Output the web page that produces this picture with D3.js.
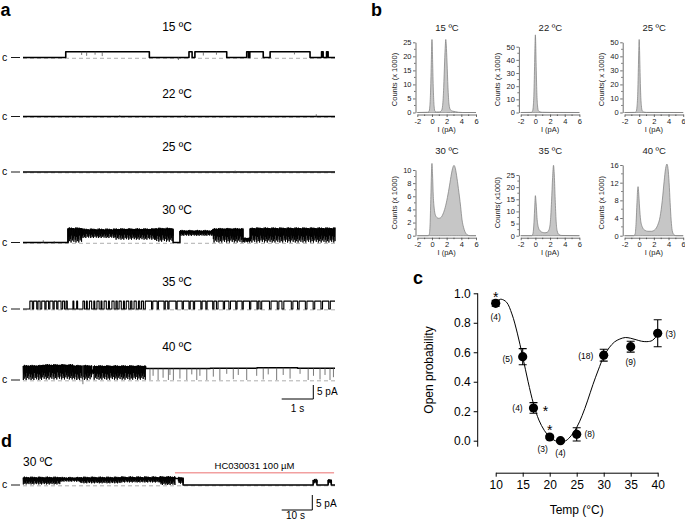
<!DOCTYPE html>
<html>
<head>
<meta charset="utf-8">
<script src="https://cdn.jsdelivr.net/npm/d3@7"></script>
<style>
  body { margin: 0; background: #fff; }
  svg { display: block; font-family: Arial, "Liberation Sans", sans-serif; }
</style>
</head>
<body>
<svg id="fig" width="685" height="519"></svg>
<script>
// ---------------- data ----------------
// a: single-channel traces, time in s (0-10), current in pA
// segments: [t0, t1, hi, lo]  (hi == lo -> steady level, else flicker band)
const traceLabels = ['15 ºC', '22 ºC', '25 ºC', '30 ºC', '35 ºC', '40 ºC']
const open15 = [[1.37, 4.05], [5.32, 5.42], [5.51, 6.53], [7.17, 7.23], [7.27, 7.70], [7.92, 9.20], [9.57, 9.62], [9.73, 9.78]]
const amp15 = 2.05
const spikes15 = [[1.88, 0.9], [2.04, 0.6], [2.31, 1.0], [2.54, 0.5], [4.98, -0.9], [5.78, 0.7], [6.2, 1.0], [8.7, 1.1]]
const seg22 = [[0, 10, 0, 0]]
const spikes22 = [[3.1, 0.5], [5.2, 0.5], [9.4, 0.8]]
const seg25 = [[0, 10, 0, 0]]
const spikes25 = [[6.8, 0.5]]
const seg30 = [[0, 1.44, 0, 0], [1.44, 1.89, 5.0, 0], [1.89, 2.95, 4.6, 1.6], [2.95, 4.23, 4.7, 1.0],
  [4.23, 4.81, 4.9, 0.3], [4.81, 5.03, 0, 0], [5.03, 6.09, 4.1, 2.4], [6.09, 7.05, 4.8, 0],
  [7.05, 7.28, 1.5, 0], [7.28, 10, 5.0, 0]]
const spikes30 = [[0.65, 0.8], [1.0, 0.5]]
const open35 = [[0.22, 0.30], [0.34, 0.44], [0.48, 0.55], [0.60, 0.70], [0.74, 0.82], [0.86, 0.96], [1.00, 1.08],
  [1.12, 1.22], [1.27, 1.33], [1.38, 1.42], [1.60, 1.63], [1.72, 1.75], [1.92, 1.97], [2.03, 2.06], [2.13, 2.20],
  [2.27, 2.30], [2.37, 2.44], [2.50, 2.53], [2.60, 2.67], [2.74, 2.77], [2.85, 2.92], [2.98, 3.02], [3.08, 3.15],
  [3.22, 3.25], [3.31, 3.39], [3.45, 3.49], [3.56, 3.63], [3.70, 3.74], [3.80, 3.86], [3.92, 4.12], [4.16, 4.30],
  [4.34, 4.52], [4.56, 4.64], [4.68, 4.90], [4.94, 5.10], [5.14, 5.32], [5.36, 5.46], [5.50, 5.70], [5.74, 5.86],
  [5.90, 6.08], [6.12, 6.20], [6.25, 6.42], [6.46, 6.60], [6.65, 6.82], [6.86, 7.02], [7.06, 7.26], [7.30, 7.50],
  [7.54, 7.60], [7.65, 7.90], [7.95, 8.15], [8.20, 8.30], [8.36, 8.60], [8.65, 8.80], [8.85, 9.05], [9.10, 9.30],
  [9.35, 9.55], [9.60, 9.80], [9.85, 10]]
const amp35 = 2.8
const seg40 = [[0, 0.6, 5.0, 0], [0.6, 1.6, 5.3, 0.2], [1.6, 2.2, 5.0, 0], [2.2, 2.27, 3.5, 2.0], [2.27, 3.93, 4.9, 0.1],
  [3.93, 6.0, 4.1, 4.1], [6.0, 7.5, 4.2, 4.2], [7.5, 8.8, 4.4, 4.4], [8.8, 10, 4.2, 4.2]]
const spikes40 = [[1.92, -1.5], [4.07, 0], [4.17, 1.5], [4.33, 0], [4.49, 0.8], [4.66, 0], [4.71, 1.8], [4.82, 0],
  [5.03, 0.5], [5.25, 0], [5.41, 2.0], [5.57, 0], [5.67, 1.5], [5.89, 0], [6.10, 1.2], [6.31, 0], [6.53, 2.2],
  [6.74, 0.3], [6.90, 1.8], [7.17, 0], [7.49, 1.5], [7.70, 0.2], [7.86, 2.0], [8.13, 0], [8.34, 1.8], [8.56, 0.5],
  [8.88, 2.2], [9.14, 0], [9.31, 1.5], [9.52, 0.2], [9.68, 1.8], [9.84, 0], [9.95, 1.0]]

// d: 30 ºC trace with HC030031, time in s (0-100)
const segD = [[0, 11.9, 2.6, 0.2], [11.9, 18.3, 2.5, 1.2], [18.3, 31.1, 2.6, 0.6], [31.1, 43.9, 2.7, 0.9],
  [43.9, 48.7, 2.8, 0], [48.7, 49.7, 2.3, 2.3], [49.7, 51.3, 2.5, 0.5], [51.3, 93.0, 0, 0], [93.0, 94.2, 1.8, 0.6],
  [94.2, 97.8, 0, 0], [97.8, 98.8, 1.8, 0.5], [98.8, 100, 0, 0]]
const hcRange = [48.7, 99.7]
const hcLabel = 'HC030031 100 µM'

// b: all-points histograms, I (pA) vs counts (x 1000)
const histTitles = ['15 ºC', '22 ºC', '25 ºC', '30 ºC', '35 ºC', '40 ºC']
const histYLabels = ['Counts (x 1000)', 'Counts (x 1000)', 'Counts( x 1000)', 'Counts (x 1000)', 'Counts( x1000)', 'Counts (x 1000)']
const histTickMax = [25, 50, 50, 10, 25, 16]
const histTickStep = [5, 10, 10, 2, 5, 4]
const histXTicks = [-2, 0, 2, 4, 6]
const hist15 = [[-2, 0], [-0.6, 0.1], [-0.4, 0.4], [-0.3, 2], [-0.2, 7], [-0.1, 17], [-0.04, 24], [0, 26], [0.04, 24],
  [0.1, 17], [0.2, 7], [0.3, 2], [0.4, 0.5], [0.6, 0.2], [1.0, 0.2], [1.3, 0.7], [1.45, 2.5], [1.6, 9], [1.72, 18],
  [1.82, 24], [1.88, 26], [1.95, 24], [2.05, 18], [2.18, 9], [2.32, 3], [2.5, 1], [2.8, 0.5], [3.2, 0.3], [3.6, 0.1],
  [4.2, 0], [6, 0]]
const hist22 = [[-2, 0], [-0.6, 0.1], [-0.4, 0.8], [-0.3, 4], [-0.2, 14], [-0.1, 38], [-0.04, 54], [0, 59], [0.04, 54],
  [0.1, 38], [0.2, 15], [0.3, 5], [0.4, 1.5], [0.6, 0.5], [1.0, 0.2], [2, 0.1], [6, 0]]
const hist25 = [[-2, 0], [-0.6, 0.1], [-0.4, 0.8], [-0.3, 4], [-0.2, 13], [-0.1, 34], [-0.04, 47], [0, 52], [0.04, 47],
  [0.1, 34], [0.2, 14], [0.3, 5], [0.4, 1.5], [0.6, 0.4], [1.0, 0.1], [6, 0]]
const hist30 = [[-2, 0], [-0.5, 0], [-0.35, 0.3], [-0.25, 2], [-0.15, 6], [-0.05, 10.2], [0, 11], [0.07, 9.5],
  [0.18, 6], [0.3, 4.2], [0.45, 3.2], [0.65, 2.8], [0.9, 2.65], [1.2, 2.75], [1.5, 3.3], [1.8, 4.3], [2.1, 5.8],
  [2.4, 7.7], [2.65, 9.4], [2.85, 10.4], [3.0, 10.7], [3.15, 10.4], [3.35, 9.2], [3.6, 7.2], [3.9, 4.5], [4.1, 2.4],
  [4.3, 1.3], [4.5, 0.6], [4.8, 0.15], [5.2, 0], [6, 0]]
const hist35 = [[-2, 0], [-0.5, 0], [-0.35, 0.6], [-0.22, 4], [-0.1, 11], [0, 16.5], [0.1, 13.5], [0.22, 7.5],
  [0.4, 3.5], [0.65, 2], [0.95, 1.4], [1.3, 1.2], [1.6, 1.4], [1.85, 2.4], [2.05, 6], [2.2, 14], [2.35, 24],
  [2.47, 29], [2.58, 25], [2.7, 15], [2.83, 6], [2.97, 2], [3.2, 0.5], [3.6, 0.1], [6, 0]]
const hist40 = [[-2, 0], [-0.75, 0], [-0.55, 0.4], [-0.42, 3], [-0.3, 7.5], [-0.2, 10.7], [-0.15, 11.1], [-0.08, 10],
  [0.05, 6.5], [0.2, 3.5], [0.45, 1.9], [0.8, 1.2], [1.2, 1.0], [1.7, 1.0], [2.1, 1.3], [2.5, 2.3], [2.85, 4.3],
  [3.15, 8], [3.4, 12.3], [3.6, 15.2], [3.78, 16.2], [3.93, 15.2], [4.08, 12], [4.22, 7.5], [4.36, 3.5], [4.5, 1.2],
  [4.7, 0.3], [5, 0], [6, 0]]

// c: open probability vs temperature
const temps = [10, 15, 17, 20, 22, 25, 30, 35, 40]
const po = [0.932, 0.57, 0.222, 0.025, 0.0, 0.043, 0.58, 0.638, 0.729]
const poErr = [0.02, 0.055, 0.036, 0.012, 0.01, 0.045, 0.04, 0.037, 0.092]
const nLabels = ['(4)', '(5)', '(4)', '(3)', '(4)', '(8)', '(18)', '(9)', '(3)']
const starred = [10, 17, 20]
const fitT = [10.5, 11, 12, 13, 14, 15, 16, 17, 18, 19, 20, 21, 22, 23, 24, 25, 26, 27, 28, 29, 30, 31, 32, 33, 34, 35, 36, 37, 38, 39, 40]
const fitPo = [0.955, 0.96, 0.94, 0.86, 0.73, 0.57, 0.40, 0.25, 0.14, 0.07, 0.025, 0.0, -0.01, 0.0, 0.035, 0.09, 0.17,
  0.27, 0.38, 0.48, 0.57, 0.63, 0.67, 0.69, 0.70, 0.695, 0.685, 0.675, 0.672, 0.68, 0.72]

// ---------------- drawing ----------------
const svg = d3.select('#fig')
const PX_PER_PA = 2.8
// fixed texture for flicker bands: fraction of the closing depth reached at each sub-pixel column
const FLICKER_DEPTH = [1, 0.6, 0.9, 0.75, 1, 0.5, 0.85, 0.7, 0.95, 0.55, 0.8]
const FLICKER_TOP = [0, 0.3, -0.2, 0.4, 0.1, -0.3, 0.2, 0, 0.35, -0.1, 0.15]

function fromOpenings(list, amp) {
  const segs = []
  let t = 0
  list.forEach(([a, b]) => {
    if (a > t) segs.push([t, a, 0, 0])
    segs.push([a, b, amp, amp])
    t = b
  })
  if (t < 10) segs.push([t, 10, 0, 0])
  return segs
}

// steady levels as one continuous line; bands are drawn separately
function levelPath(segs, x, y) {
  let p = ''
  segs.forEach((s, i) => {
    const x0 = x(s[0]), x1 = x(s[1])
    p += (i ? 'L' : 'M') + x0 + ',' + y(s[2]) + 'L' + x1 + ',' + y(s[2])
  })
  return p
}

function bandPath(segs, x, y) {
  let p = ''
  let k = 0
  const step = 0.7
  segs.filter(s => s[2] !== s[3]).forEach(s => {
    const x0 = x(s[0]), x1 = x(s[1])
    p += 'M' + x0 + ',' + y(s[2])
    for (let px = x0; px < x1; px += step, k++) {
      const f = FLICKER_DEPTH[k % FLICKER_DEPTH.length]
      const top = s[2] + FLICKER_TOP[(k * 3) % FLICKER_TOP.length]
      p += 'L' + Math.min(px + step / 2, x1) + ',' + y(s[2] - (s[2] - s[3]) * f) + 'L' + Math.min(px + step, x1) + ',' + y(top)
    }
  })
  return p
}

function drawTrace(segs, spikes, x, base, lw) {
  const y = a => base - a * PX_PER_PA
  const g = svg.append('g')
  // closed-level dashed line
  g.append('line').attr('x1', x.range()[0]).attr('x2', x.range()[1])
    .attr('y1', base + 0.8).attr('y2', base + 0.8)
    .attr('stroke', '#9a9a9a').attr('stroke-width', 0.8).attr('stroke-dasharray', '4,3')
  // "c —" label
  g.append('text').attr('x', 2).attr('y', base + 3).attr('font-size', 10.5).text('c')
  g.append('line').attr('x1', 11).attr('x2', 20).attr('y1', base).attr('y2', base)
    .attr('stroke', '#000').attr('stroke-width', 0.9)
  const steady = segs.map(s => s[2] === s[3] ? s : [s[0], s[1], s[2] - 0.2, s[2] - 0.2])
  g.append('path').attr('d', levelPath(steady, x, y))
    .attr('fill', 'none').attr('stroke', '#000').attr('stroke-width', lw || 1.6).attr('stroke-linejoin', 'round')
  g.append('path').attr('d', bandPath(segs, x, y))
    .attr('fill', 'none').attr('stroke', '#000').attr('stroke-width', 0.9)
  ;(spikes || []).forEach(([t, a]) => {
    const s = segs.find(s => t >= s[0] && t <= s[1])
    const lvl = s ? s[2] : 0
    g.append('line').attr('x1', x(t)).attr('x2', x(t)).attr('y1', y(lvl)).attr('y2', y(a))
      .attr('stroke', '#555').attr('stroke-width', 0.8)
  })
}

// ---- panel a ----
const xT = d3.scaleLinear().domain([0, 10]).range([23, 335])
const rows = [
  { segs: fromOpenings(open15, amp15), spikes: spikes15, base: 57.5, ly: 31 },
  { segs: seg22, spikes: spikes22, base: 116.5, ly: 98 },
  { segs: seg25, spikes: spikes25, base: 172, ly: 151 },
  { segs: seg30, spikes: spikes30, base: 242.5, ly: 214 },
  { segs: fromOpenings(open35, amp35), spikes: [], base: 309, ly: 285.5, lw: 1.1 },
  { segs: seg40, spikes: spikes40, base: 380, ly: 350.5 }
]
rows.forEach((r, i) => {
  svg.append('text').attr('x', 177).attr('y', r.ly).attr('text-anchor', 'middle')
    .attr('font-size', 12).text(traceLabels[i])
  drawTrace(r.segs, r.spikes, xT, r.base, r.lw)
})
// time / current scale bar
svg.append('path').attr('d', 'M281.7,399H313.3V385').attr('fill', 'none').attr('stroke', '#000').attr('stroke-width', 1)
svg.append('text').attr('x', 317).attr('y', 395).attr('font-size', 10).text('5 pA')
svg.append('text').attr('x', 297.5).attr('y', 411.5).attr('font-size', 10).attr('text-anchor', 'middle').text('1 s')

// ---- panel d ----
const xD = d3.scaleLinear().domain([0, 100]).range([23, 335])
svg.append('text').attr('x', 23).attr('y', 465.5).attr('font-size', 12).text('30 ºC')
svg.append('line').attr('x1', xD(hcRange[0])).attr('x2', xD(hcRange[1])).attr('y1', 472.7).attr('y2', 472.7)
  .attr('stroke', '#f2a0a0').attr('stroke-width', 1.6)
svg.append('text').attr('x', 254.5).attr('y', 469).attr('font-size', 9.5).attr('text-anchor', 'middle').text(hcLabel)
drawTrace(segD, [], xD, 485)
svg.append('path').attr('d', 'M281.7,510H312.3V495').attr('fill', 'none').attr('stroke', '#000').attr('stroke-width', 1)
svg.append('text').attr('x', 316).attr('y', 507).attr('font-size', 10).text('5 pA')
svg.append('text').attr('x', 295.5).attr('y', 518.5).attr('font-size', 10).attr('text-anchor', 'middle').text('10 s')

// ---- panel b ----
const hists = [hist15, hist22, hist25, hist30, hist35, hist40]
const colX = [417.3, 520.7, 624.5]
const rowY0 = [112.5, 235.7]
const tickMaxY = [42.3, 46.7, 42.3, 170, 175, 165]
hists.forEach((data, i) => {
  const c = i % 3, r = Math.floor(i / 3)
  const x0 = colX[c], y0 = rowY0[r]
  const x = d3.scaleLinear().domain([-2, 6]).range([x0, x0 + 58.7])
  const y = d3.scaleLinear().domain([0, histTickMax[i]]).range([y0, tickMaxY[i]])
  const g = svg.append('g')
  g.append('path').datum(data)
    .attr('d', d3.area().x(d => x(d[0])).y0(y(0)).y1(d => y(d[1])).curve(d3.curveMonotoneX))
    .attr('fill', '#c6c6c6').attr('stroke', '#7a7a7a').attr('stroke-width', 0.7)
  // y axis
  const yTicks = d3.range(0, histTickMax[i] + 0.001, histTickStep[i])
  const ya = g.append('g').attr('transform', `translate(${x0 - 1.8},0)`)
    .call(d3.axisLeft(y).tickValues(yTicks).tickFormat(d => String(d)).tickSize(2.5).tickSizeOuter(0).tickPadding(1.5))
  const minorY = d3.range(histTickStep[i] / 2, histTickMax[i], histTickStep[i])
  ya.selectAll('.minor').data(minorY).enter().append('line')
    .attr('x1', -1.5).attr('x2', 0).attr('y1', d => y(d)).attr('y2', d => y(d))
  // x axis
  const xa = g.append('g').attr('transform', `translate(0,${y0 + 2})`)
    .call(d3.axisBottom(x).tickValues(histXTicks).tickFormat(d => String(d)).tickSize(2.5).tickSizeOuter(0).tickPadding(1.5))
  xa.selectAll('.minor').data([-1, 1, 3, 5]).enter().append('line')
    .attr('x1', d => x(d)).attr('x2', d => x(d)).attr('y1', 0).attr('y2', 1.5)
  ;[ya, xa].forEach(a => {
    a.attr('font-family', null).attr('font-size', 7.5)
    a.selectAll('path, line').attr('stroke', '#333').attr('stroke-width', 0.7)
    a.selectAll('text').attr('fill', '#222')
  })
  g.append('text').attr('x', (x(-2) + x(6)) / 2).attr('y', y0 + 19.5).attr('text-anchor', 'middle')
    .attr('font-size', 7.5).attr('fill', '#222').text('I (pA)')
  g.append('text').attr('transform', `translate(${x0 - 20.5},${y0 - 33}) rotate(-90)`)
    .attr('text-anchor', 'middle').attr('font-size', 7.5).attr('fill', '#222').text(histYLabels[i])
  g.append('text').attr('x', x(0) + 15).attr('y', r ? 153.5 : 30.5).attr('text-anchor', 'middle')
    .attr('font-size', 9.5).attr('fill', '#222').text(histTitles[i])
})

// ---- panel c ----
const xc = d3.scaleLinear().domain([10, 40]).range([495.7, 657.7])
const yc = d3.scaleLinear().domain([0, 1]).range([440.7, 293.3])
const gc = svg.append('g')
const yAx = gc.append('g').attr('transform', 'translate(477.7,0)')
  .call(d3.axisLeft(yc).tickValues([0, 0.2, 0.4, 0.6, 0.8, 1.0]).tickFormat(d3.format('.1f')).tickSize(4).tickPadding(3))
yAx.select('.domain').remove()
yAx.append('line').attr('y1', yc(1)).attr('y2', 446.7).attr('stroke', '#000')
const xAx = gc.append('g').attr('transform', 'translate(0,472.7)')
  .call(d3.axisBottom(xc).tickValues(d3.range(10, 41, 5)).tickSize(4).tickSizeOuter(0).tickPadding(4))
;[yAx, xAx].forEach(a => {
  a.attr('font-family', null).attr('font-size', 12)
  a.selectAll('path, line').attr('stroke', '#000').attr('stroke-width', 1)
  a.selectAll('text').attr('fill', '#000')
})
gc.append('text').attr('transform', 'translate(433,370) rotate(-90)').attr('text-anchor', 'middle')
  .attr('font-size', 12).text('Open probability')
gc.append('text').attr('x', 576.7).attr('y', 514).attr('text-anchor', 'middle').attr('font-size', 12).text('Temp (°C)')

gc.append('path').datum(fitT.map((t, i) => [t, fitPo[i]]))
  .attr('d', d3.line().x(d => xc(d[0])).y(d => yc(d[1])).curve(d3.curveCatmullRom))
  .attr('fill', 'none').attr('stroke', '#000').attr('stroke-width', 1)

temps.forEach((t, i) => {
  const cx = xc(t), top = yc(po[i] + poErr[i]), bot = yc(po[i] - poErr[i])
  gc.append('path').attr('d', `M${cx - 4},${top}H${cx + 4}M${cx},${top}V${bot}M${cx - 4},${bot}H${cx + 4}`)
    .attr('fill', 'none').attr('stroke', '#000').attr('stroke-width', 1.1)
  gc.append('circle').attr('cx', cx).attr('cy', yc(po[i])).attr('r', 4.6).attr('fill', '#000')
})
// n labels (offsets in px around each point)
const nOffsets = [[0, 14], [-15, 2], [-16, 0], [-7, 12], [0, 12], [13, 0], [-18, 1], [0, 15], [13, 1]]
temps.forEach((t, i) => {
  gc.append('text').attr('x', xc(t) + nOffsets[i][0]).attr('y', yc(po[i]) + nOffsets[i][1] + 3)
    .attr('text-anchor', 'middle').attr('font-size', 8.5).text(nLabels[i])
})
const starOffsets = { 10: [0, -9], 17: [12, 0], 20: [0, -10] }
starred.forEach(t => {
  const i = temps.indexOf(t)
  gc.append('text').attr('x', xc(t) + starOffsets[t][0]).attr('y', yc(po[i]) + starOffsets[t][1] + 8)
    .attr('text-anchor', 'middle').attr('font-size', 14).text('*')
})

// panel letters
const letters = [['a', 0.5, 15.5], ['b', 371, 15.5], ['c', 413, 284], ['d', 1, 447]]
letters.forEach(([t, x, y]) => {
  svg.append('text').attr('x', x).attr('y', y).attr('font-size', 18).attr('font-weight', 'bold').text(t)
})
</script>
</body>
</html>
